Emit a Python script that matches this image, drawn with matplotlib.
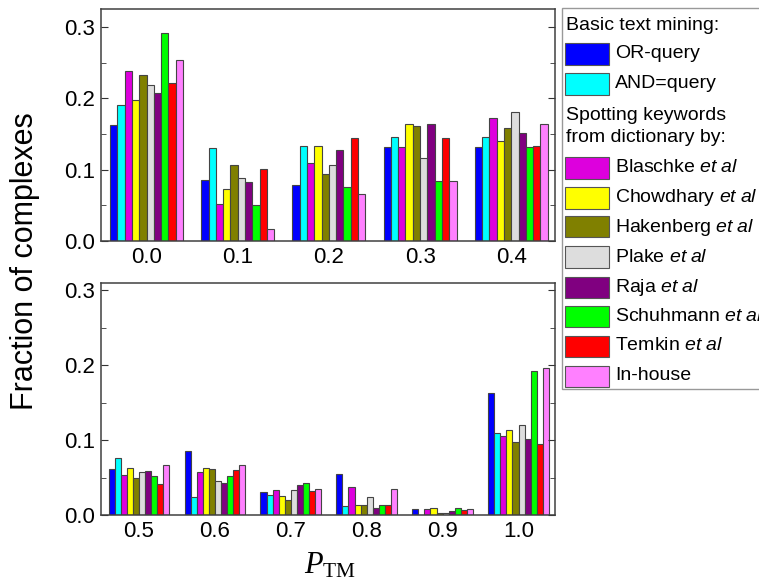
import matplotlib
matplotlib.use('Agg')
import matplotlib.pyplot as plt
import numpy as np
from matplotlib.patches import Rectangle

plt.rcParams['font.family'] = 'Liberation Sans'
plt.rcParams['mathtext.fontset'] = 'custom'
plt.rcParams['mathtext.rm'] = 'Liberation Serif'
plt.rcParams['mathtext.it'] = 'Liberation Serif:italic'
plt.rcParams['mathtext.sf'] = 'Liberation Sans:italic'

# P_TM categories, split over the two panels
top_cats = ['0.0', '0.1', '0.2', '0.3', '0.4']
bottom_cats = ['0.5', '0.6', '0.7', '0.8', '0.9', '1.0']

# fraction of complexes per method, one value per P_TM (0.0 ... 1.0)
or_query  = [0.163, 0.085, 0.078, 0.132, 0.132, 0.062, 0.086, 0.031, 0.055, 0.0076, 0.163]
and_query = [0.191, 0.130, 0.133, 0.146, 0.146, 0.076, 0.024, 0.027, 0.012, 0.0,    0.109]
blaschke  = [0.238, 0.052, 0.109, 0.131, 0.173, 0.053, 0.057, 0.034, 0.037, 0.0076, 0.105]
chowdhary = [0.197, 0.073, 0.133, 0.164, 0.140, 0.063, 0.063, 0.025, 0.013, 0.010,  0.113]
hakenberg = [0.232, 0.107, 0.094, 0.161, 0.158, 0.050, 0.061, 0.020, 0.013, 0.003,  0.097]
plake     = [0.219, 0.088, 0.106, 0.116, 0.181, 0.058, 0.045, 0.034, 0.024, 0.003,  0.120]
raja      = [0.207, 0.082, 0.128, 0.164, 0.151, 0.059, 0.043, 0.040, 0.010, 0.006,  0.102]
schuhmann = [0.292, 0.051, 0.075, 0.084, 0.131, 0.052, 0.052, 0.043, 0.014, 0.009,  0.193]
temkin    = [0.222, 0.101, 0.144, 0.144, 0.133, 0.042, 0.060, 0.032, 0.014, 0.007,  0.095]
inhouse   = [0.254, 0.017, 0.066, 0.084, 0.164, 0.067, 0.067, 0.035, 0.035, 0.008,  0.196]

series = [or_query, and_query, blaschke, chowdhary, hakenberg,
          plake, raja, schuhmann, temkin, inhouse]
labels = ['OR-query', 'AND=query',
          r'Blaschke $\mathsf{et\ al}$', r'Chowdhary $\mathsf{et\ al}$',
          r'Hakenberg $\mathsf{et\ al}$', r'Plake $\mathsf{et\ al}$',
          r'Raja $\mathsf{et\ al}$', r'Schuhmann $\mathsf{et\ al}$',
          r'Temkin $\mathsf{et\ al}$', 'In-house']
colors = ['#0000FF', '#00FFFF', '#DD00DD', '#FFFF00', '#808000',
          '#DDDDDD', '#800080', '#00FF00', '#FF0000', '#FF80FF']

W, H = 759, 587
fig = plt.figure(figsize=(W / 100, H / 100), dpi=100)
ax_top = fig.add_axes([101 / W, 1 - 241 / H, 454 / W, 232 / H])
ax_bot = fig.add_axes([101 / W, 1 - 515 / H, 454 / W, 232 / H])

width = 0.08
edge = '#444444'


def draw_panel(ax, cats, start, ytop):
    x = np.arange(len(cats))
    for i, (vals, col) in enumerate(zip(series, colors)):
        ax.bar(x + (i - 4.5) * width, vals[start:start + len(cats)], width,
               color=col, edgecolor=edge, linewidth=0.8)
    ax.set_xlim(-0.5, len(cats) - 0.52)
    ax.set_ylim(0, ytop)
    ax.set_xticks(x)
    ax.set_xticklabels(cats)
    ax.set_yticks([0.0, 0.1, 0.2, 0.3])
    ax.set_yticklabels(['0.0', '0.1', '0.2', '0.3'])
    ax.set_yticks([0.05, 0.15, 0.25], minor=True)
    ax.tick_params(axis='x', length=0, pad=4, labelsize=16)
    ax.tick_params(axis='y', which='both', direction='in', right=True,
                   labelsize=16, pad=4, color='#333333')
    ax.tick_params(axis='y', which='major', length=5)
    ax.tick_params(axis='y', which='minor', length=3.5)
    for s in ax.spines.values():
        s.set_color('#404040')
        s.set_linewidth(1.1)


draw_panel(ax_top, top_cats, 0, 0.325)
draw_panel(ax_bot, bottom_cats, 5, 0.31)

fig.text(25 / W, 1 - 261 / H, 'Fraction of complexes', rotation=90,
         ha='center', va='center', fontsize=22)
fig.text(330 / W, 1 - 573 / H, r'$P_{\mathrm{TM}}$', ha='center',
         va='baseline', fontsize=22)


# legend drawn by hand so the header lines sit flush left
def fx(x):
    return x / W


def fy(y):
    return 1 - y / H


fig.add_artist(Rectangle((fx(562), fy(389)), fx(900) - fx(562), fy(8) - fy(389),
                         transform=fig.transFigure, facecolor='white',
                         edgecolor='#999999', linewidth=1.0))

fig.text(fx(566), fy(25), 'Basic text mining:', fontsize=14, va='center')
fig.text(fx(566), fy(115), 'Spotting keywords', fontsize=14, va='center')
fig.text(fx(566), fy(137), 'from dictionary by:', fontsize=14, va='center')

row_y = [54, 84, 168, 198, 227, 257, 287, 316.5, 346, 376]
for yc, lab, col in zip(row_y, labels, colors):
    fig.add_artist(Rectangle((fx(565), fy(yc + 10.5)), fx(609) - fx(565), 21 / H,
                             transform=fig.transFigure, facecolor=col,
                             edgecolor='#555555', linewidth=0.8))
    fig.text(fx(615), fy(yc), lab, fontsize=14, va='center')

fig.savefig('out.png', dpi=100)
